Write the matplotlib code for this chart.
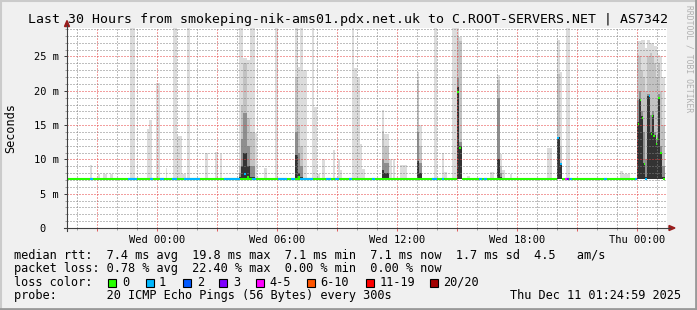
import matplotlib
matplotlib.use('Agg')
import matplotlib.pyplot as plt
from matplotlib.patches import Polygon, Rectangle
from matplotlib.lines import Line2D

W, H = 697, 310
MONO = 'DejaVu Sans Mono'

# time axis: hours relative to Wed 00:00
x_start, x_end = -4.5, 25.5
hour_ticks = [0, 6, 12, 18, 24]
hour_labels = ['Wed 00:00', 'Wed 06:00', 'Wed 12:00', 'Wed 18:00', 'Thu 00:00']
ms_ticks = [0, 5, 10, 15, 20, 25]
ms_labels = ['0\u00a0\u00a0', '5 m', '10 m', '15 m', '20 m', '25 m']
y_top = 29.15

# spikes where only the outer (light) smoke shows: start, end (h), max ping (ms)
thin_start = [-3.35, -2.95, -2.7, -2.35, -1.35, -0.5, -0.4, -0.05, 0.45, 0.8, 1.0, 1.25, 1.5,
              2.4, 2.9, 3.15, 4.9, 5.35, 5.9, 7.3, 7.75, 7.85, 8.0, 8.25, 8.8, 9.05, 9.15,
              9.75, 9.85, 10.0, 10.15, 10.25, 11.6, 11.8, 12.15, 13.85, 14.25, 14.35, 14.75,
              15.5, 16.65, 17.25, 17.65, 19.5, 20.45, 23.15, 23.3]
thin_end = [-3.25, -2.85, -2.5, -2.2, -1.1, -0.4, -0.25, 0.15, 0.5, 1.0, 1.25, 1.45, 1.65,
            2.55, 3.05, 3.25, 5.0, 5.5, 6.05, 7.5, 7.85, 8.0, 8.15, 8.4, 8.9, 9.15, 9.25,
            9.85, 10.0, 10.15, 10.25, 10.4, 11.75, 11.9, 12.5, 14.0, 14.35, 14.5, 15.0,
            15.65, 16.85, 17.4, 17.75, 19.75, 20.65, 23.3, 23.65]
thin_max = [9.2, 7.8, 7.9, 7.9, 30, 14.4, 15.7, 21.1, 8.7, 30, 13.4, 7.8, 30,
            11.0, 11.1, 10.8, 13.9, 8.8, 30, 23.0, 30, 17.7, 7.8, 10.1, 11.3, 10.1, 8.5,
            30, 23.3, 21.8, 12.3, 8.6, 10.0, 10.1, 9.2, 30, 10.9, 8.1, 30,
            7.6, 8.2, 8.5, 7.9, 11.7, 30, 8.3, 7.8]

# spikes with the full smoke spread: start, end (h), ping levels (ms)
smoke_start = [4.1, 4.2, 4.3, 4.5, 4.65, 6.9, 7.05, 7.15, 11.25, 11.35, 13.0, 13.1,
               15.0, 15.1, 17.0, 17.15, 20.0, 20.15,
               24.0, 24.1, 24.2, 24.3, 24.4, 24.5, 24.65, 24.75, 24.85, 24.95, 25.0, 25.05, 25.15, 25.25]
smoke_end = [4.2, 4.3, 4.5, 4.65, 4.9, 7.05, 7.15, 7.3, 11.35, 11.6, 13.1, 13.25,
             15.1, 15.25, 17.15, 17.25, 20.15, 20.25,
             24.1, 24.2, 24.3, 24.4, 24.5, 24.65, 24.75, 24.85, 24.95, 25.0, 25.05, 25.15, 25.25, 25.4]
smoke_max = [30, 30, 24.8, 24.5, 30, 30, 23.4, 30, 17.2, 13.7, 22.8, 15.0,
             30, 27.9, 22.3, 10.8, 27.4, 22.8,
             27.2, 27.2, 27.4, 27.4, 26.2, 27.4, 27.0, 27.0, 26.5, 26.5, 26.0, 25.2, 25.0, 22.0]
smoke_hi = [9.0, 18.0, 24.0, 16.0, 14.0, 22.0, 15.0, 12.0, 14.2, 12.0, 21.6, 12.0,
            28.0, 27.2, 21.5, 9.0, 22.5, 12.0,
            25.2, 25.0, 23.0, 22.0, 20.0, 25.0, 25.5, 25.0, 24.0, 22.0, 22.0, 24.0, 20.0, 15.0]
smoke_mid = [8.0, 13.0, 16.8, 12.0, 9.0, 14.0, 11.0, 9.0, 10.0, 9.5, 14.0, 9.5,
             21.8, 12.6, 19.0, 8.0, 13.3, 9.5,
             18.7, 20.0, 17.0, 14.0, 10.0, 19.5, 16.5, 17.0, 14.0, 13.0, 13.5, 19.5, 12.0, 9.0]
smoke_lo = [7.5, 9.0, 11.0, 9.0, 7.5, 10.7, 8.0, 7.5, 8.5, 8.0, 9.7, 8.0,
            20.5, 12.0, 10.0, 7.5, 13.3, 9.4,
            15.5, 18.8, 16.3, 9.5, 7.5, 19.3, 14.0, 16.4, 13.5, 12.4, 13.1, 19.1, 11.1, 7.5]
smoke_colors = ['#dcdcdc', '#c2c2c2', '#8e8e8e', '#333333']

# median rtt line
median_base = 7.1
base_start = [-4.5, 15.25, 20.25, 25.28]
base_end = [15.0, 20.0, 24.0, 25.4]
# stretches at the base level with one lost ping
blue_start = [-3.35, -1.45, -0.35, 0.15, 0.75, 1.35, 3.35, 4.75, 6.05, 6.7, 7.15, 8.45, 8.9,
              9.6, 10.75, 13.75, 14.25, 16.1, 16.35, 20.65, 22.35, 23.9]
blue_end = [-3.2, -1.0, -0.2, 0.35, 1.0, 2.15, 4.15, 4.95, 6.5, 6.9, 7.8, 8.7, 9.1,
            9.75, 10.9, 14.0, 14.35, 16.25, 16.5, 20.75, 22.5, 24.0]
# median samples that moved off the base level (or lost more pings)
med_start = [4.35, 4.5, 7.05, 15.0, 15.1, 20.0, 20.15, 20.4, 20.5,
             24.05, 24.15, 24.25, 24.33, 24.4, 24.58, 24.68, 24.74, 24.82, 24.93, 25.0, 25.07, 25.17]
med_end = [4.45, 4.6, 7.15, 15.1, 15.2, 20.1, 20.25, 20.5, 20.6,
           24.12, 24.22, 24.32, 24.4, 24.5, 24.65, 24.74, 24.8, 24.88, 24.98, 25.05, 25.13, 25.23]
med_ms = [7.8, 7.5, 7.5, 19.8, 11.6, 13.1, 9.3, 7.1, 7.1,
          15.2, 18.6, 16.1, 9.3, 7.1, 19.2, 13.7, 16.3, 13.4, 12.3, 13.0, 19.0, 11.0]
med_loss = [1, 0, 0, 0, 0, 1, 1, 4, 3,
            0, 0, 0, 0, 1, 1, 0, 0, 0, 0, 0, 0, 0]

loss_labels = ['0', '1', '2', '3', '4-5', '6-10', '11-19', '20/20']
loss_colors = ['#26ff00', '#00b8ff', '#0059ff', '#7e00ff', '#ff00ff', '#ff5500', '#ff0000', '#a10000']
loss_box_x = [108, 145.7, 182.7, 219.3, 256, 306.7, 365.7, 430]
loss_text_x = [122.3, 158.7, 196.7, 233.7, 269.7, 320.7, 379.5, 443.3]

line_rtt = 'median rtt:  7.4 ms avg  19.8 ms max  7.1 ms min  7.1 ms now  1.7 ms sd  4.5   am/s'
line_loss = 'packet loss: 0.78 % avg  22.40 % max  0.00 % min  0.00 % now'
line_probe = 'probe:       20 ICMP Echo Pings (56 Bytes) every 300s'
stamp = 'Thu Dec 11 01:24:59 2025'
title = 'Last 30 Hours from smokeping-nik-ams01.pdx.net.uk to C.ROOT-SERVERS.NET | AS7342'


def fx(x):
    return x / W


def fy(y):
    return 1 - y / H


fig = plt.figure(figsize=(W / 100, H / 100), dpi=100, facecolor='#f0f0f0')
ax = fig.add_axes([fx(67), fy(228), 600 / W, 200 / H])
ax.set_facecolor('white')
ax.set_xlim(x_start, x_end)
ax.set_ylim(0, y_top)
for s in ax.spines.values():
    s.set_visible(False)

# smoke
for t0, t1, m in zip(thin_start, thin_end, thin_max):
    ax.bar(t0, m - median_base, width=t1 - t0, bottom=median_base, align='edge',
           color=smoke_colors[0], linewidth=0, zorder=2)
for i in range(len(smoke_start)):
    levels = [smoke_max[i], smoke_hi[i], smoke_mid[i], smoke_lo[i]]
    for lvl, c in zip(levels, smoke_colors):
        ax.bar(smoke_start[i], lvl - median_base, width=smoke_end[i] - smoke_start[i],
               bottom=median_base, align='edge', color=c, linewidth=0, zorder=2)

# median line, coloured by loss
lw = 1.5
for t0, t1 in zip(base_start, base_end):
    ax.plot([t0, t1], [median_base, median_base], color=loss_colors[0], lw=lw,
            solid_capstyle='butt', zorder=4)
for t0, t1 in zip(blue_start, blue_end):
    ax.plot([t0, t1], [median_base, median_base], color=loss_colors[1], lw=lw,
            solid_capstyle='butt', zorder=4)
for t0, t1, v, l in zip(med_start, med_end, med_ms, med_loss):
    ax.plot([t0, t1], [v, v], color=loss_colors[l], lw=lw, solid_capstyle='butt', zorder=5)

# grid
ax.set_xticks(list(range(-3, 25, 3)))
ax.set_xticks(list(range(-4, 26)), minor=True)
ax.set_xticklabels([hour_labels[hour_ticks.index(h)] if h in hour_ticks else ''
                    for h in range(-3, 25, 3)], family=MONO, fontsize=7.5)
ax.set_yticks(ms_ticks)
ax.set_yticks(list(range(0, 30)), minor=True)
ax.set_yticklabels(ms_labels, family=MONO, fontsize=7.5)
ax.grid(which='minor', color=(0.5, 0.5, 0.5, 0.28), linestyle=(0, (1, 2)), linewidth=0.72, zorder=6)
ax.grid(which='major', color=(0.9, 0.25, 0.25, 0.38), linestyle=(0, (1, 2)), linewidth=0.72, zorder=6)
ax.set_axisbelow(False)
ax.tick_params(which='major', direction='out', length=2.2, width=0.72, color='#e06060', pad=2.5)
ax.tick_params(which='minor', direction='out', length=1.5, width=0.72, color='#a0a0a0')
ax.tick_params(axis='y', which='major', color='#404040', pad=3.6)

# axis lines and arrows
fig.add_artist(Line2D([fx(67), fx(67)], [fy(231), fy(25)], color='#404040', lw=0.8))
fig.add_artist(Line2D([fx(64), fx(670)], [fy(228), fy(228)], color='#404040', lw=0.8))
fig.add_artist(Polygon([(fx(67), fy(20.5)), (fx(64.5), fy(26.5)), (fx(69.5), fy(26.5))],
                       closed=True, color='#9a1c1c', transform=fig.transFigure))
fig.add_artist(Polygon([(fx(675), fy(228)), (fx(669), fy(225.5)), (fx(669), fy(230.5))],
                       closed=True, color='#9a1c1c', transform=fig.transFigure))

# frame shading
fig.add_artist(Line2D([0, 1], [fy(0.7), fy(0.7)], color='#cbcbcb', lw=1.5))
fig.add_artist(Line2D([fx(0.7), fx(0.7)], [0, 1], color='#cbcbcb', lw=1.5))
fig.add_artist(Line2D([0, 1], [fy(309), fy(309)], color='#999999', lw=2))
fig.add_artist(Line2D([fx(696), fx(696)], [0, 1], color='#999999', lw=2))

# texts
fig.text(fx(347.5), fy(23.3), title, family=MONO, fontsize=9.57, ha='center', va='baseline')
fig.text(fx(11), fy(128), 'Seconds', family=MONO, fontsize=8.57, rotation=90,
         ha='center', va='center')
fig.text(fx(689.5), fy(5), 'RRDTOOL / TOBI OETIKER', family=MONO, fontsize=5.8,
         rotation=270, ha='center', va='top', color='#b0b0b0')

x0 = 14.2
rows = [258.5, 272.1, 285.7, 299.3]
fig.text(fx(x0), fy(rows[0]), line_rtt, family=MONO, fontsize=8.57, va='baseline')
fig.text(fx(x0), fy(rows[1]), line_loss, family=MONO, fontsize=8.57, va='baseline')
fig.text(fx(x0), fy(rows[2]), 'loss color:', family=MONO, fontsize=8.57, va='baseline')
for bx, tx, lab, c in zip(loss_box_x, loss_text_x, loss_labels, loss_colors):
    fig.add_artist(Rectangle((fx(bx), fy(286.5)), 8 / W, 8 / H, transform=fig.transFigure,
                             facecolor=c, edgecolor='black', linewidth=0.8))
    fig.text(fx(tx), fy(rows[2]), lab, family=MONO, fontsize=8.57, va='baseline')
fig.text(fx(x0), fy(rows[3]), line_probe, family=MONO, fontsize=8.57, va='baseline')
fig.text(fx(681), fy(rows[3]), stamp, family=MONO, fontsize=8.57, va='baseline', ha='right')

fig.savefig('out.png', dpi=100, facecolor=fig.get_facecolor())
